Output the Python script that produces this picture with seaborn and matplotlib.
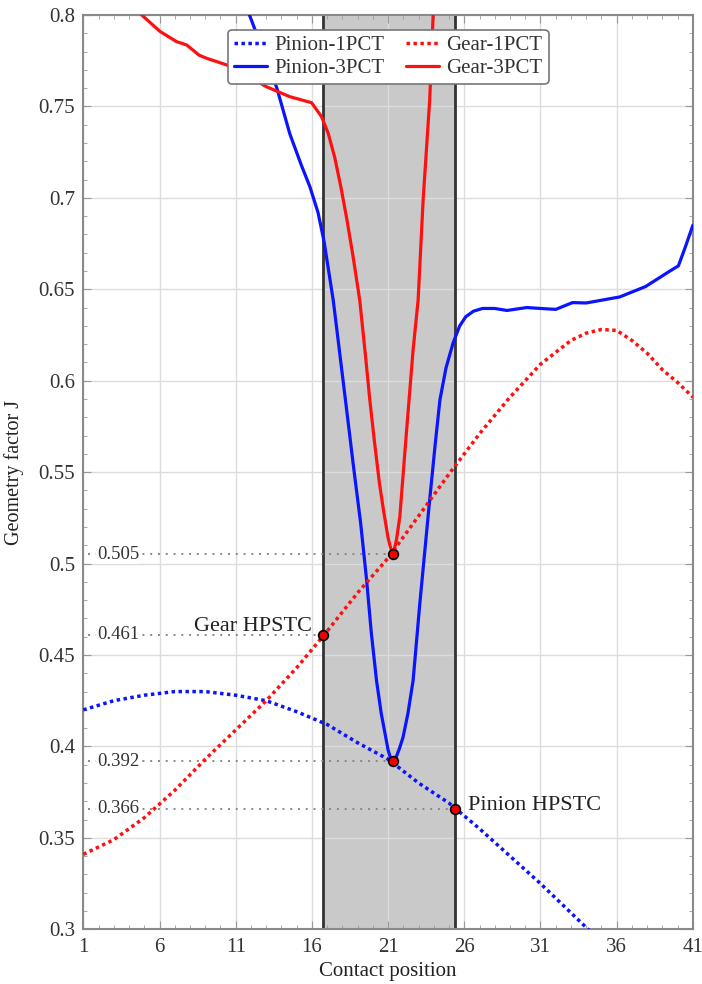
"""Geometry factor J along the contact path, pinion vs gear, 1PCT vs 3PCT."""
import matplotlib
matplotlib.use("Agg")
import matplotlib.pyplot as plt
import pandas as pd
import seaborn as sns
from matplotlib.ticker import MultipleLocator

# --- data ------------------------------------------------------------------
pinion_1pct_x = [1, 3, 5, 7, 9, 11, 13, 15, 17, 19, 21, 23, 25, 27, 29, 31, 33, 35]
pinion_1pct_y = [0.420, 0.425, 0.428, 0.430, 0.430, 0.428, 0.425, 0.419, 0.412,
                 0.402, 0.393, 0.380, 0.369, 0.355, 0.340, 0.325, 0.309, 0.293]

gear_1pct_x = [1, 3, 5, 7, 9, 11, 13, 15, 17, 19, 21, 23, 25, 27, 29, 31, 33, 34,
               35, 36, 37, 38, 39, 40, 41]
gear_1pct_y = [0.341, 0.349, 0.361, 0.376, 0.393, 0.409, 0.425, 0.443, 0.463,
               0.484, 0.503, 0.526, 0.549, 0.571, 0.591, 0.609, 0.622, 0.626,
               0.628, 0.6275, 0.622, 0.615, 0.606, 0.599, 0.591]

pinion_3pct_x = [10.0, 11.9, 13.0, 13.7, 14.55, 15.3, 15.87, 16.4, 16.8, 17.4,
                 18.2, 18.73, 19.2, 19.59, 19.9, 20.24, 20.55, 20.8, 21.0, 21.2,
                 21.33, 21.5, 21.75, 21.98, 22.3, 22.64, 23.08, 23.73, 24.1,
                 24.4, 24.8, 25.26, 25.7, 26.1, 26.6, 27.2, 28.0, 28.8, 30.1,
                 31.0, 32.0, 33.1, 34.0, 36.2, 37.9, 39.5, 40.05, 40.5, 41.0]
pinion_3pct_y = [0.842, 0.800, 0.776, 0.760, 0.735, 0.718, 0.706, 0.692, 0.676,
                 0.644, 0.5895, 0.553, 0.522, 0.491, 0.462, 0.436, 0.418, 0.407,
                 0.398, 0.3925, 0.392, 0.3935, 0.399, 0.405, 0.418, 0.436, 0.478,
                 0.535, 0.566, 0.5895, 0.607, 0.6205, 0.630, 0.635, 0.638,
                 0.6395, 0.6395, 0.6384, 0.640, 0.6395, 0.639, 0.6427, 0.6425,
                 0.6458, 0.6515, 0.660, 0.6628, 0.673, 0.685]

gear_3pct_x = [4.0, 4.83, 6.03, 7.12, 7.78, 8.6, 9.09, 10.4, 11.5, 13.0, 14.55,
               15.98, 16.63, 17.07, 17.5, 17.9, 18.3, 18.7, 19.14, 19.5, 19.8,
               20.1, 20.43, 20.7, 21.0, 21.15, 21.33, 21.55, 21.77, 22.2, 22.64,
               22.97, 23.3, 23.73, 23.95, 24.2]
gear_3pct_y = [0.806, 0.800, 0.791, 0.7854, 0.7836, 0.778, 0.7763, 0.7727, 0.768,
               0.7608, 0.7553, 0.752, 0.7444, 0.7353, 0.722, 0.706, 0.688, 0.668,
               0.644, 0.615, 0.5895, 0.567, 0.544, 0.529, 0.514, 0.509, 0.505,
               0.513, 0.5257, 0.5713, 0.6168, 0.644, 0.699, 0.7535, 0.799, 0.830]

# HPSTC band and the marked points
band_x = [16.75, 25.4]
mark_x = [16.75, 21.33, 21.33, 25.4]
mark_y = [0.461, 0.505, 0.392, 0.366]
mark_labels = ["0.461", "0.505", "0.392", "0.366"]

sns.set_style("ticks")
plt.rcParams["font.family"] = ["Liberation Serif", "DejaVu Serif"]

fig = plt.figure(figsize=(7.02, 9.84), dpi=100)
ax = fig.add_axes([0.1187, 0.0556, 0.987 - 0.1187, 0.9848 - 0.0556])

ax.axvspan(band_x[0], band_x[1], color="#c9c9c9", zorder=0)
for bx in band_x:
    ax.axvline(bx, color="#333333", lw=2.0, zorder=1)

ax.grid(True, which="major", color="#dcdcdc", lw=1.0, zorder=0.5)
ax.set_axisbelow(True)

blue, red = "#0a14ff", "#ff1010"
dot = (0, (1, 1))
series = [
    ("Pinion-1PCT", pinion_1pct_x, pinion_1pct_y, blue, dot, 2.5),
    ("Pinion-3PCT", pinion_3pct_x, pinion_3pct_y, blue, "-", 2.3),
    ("Gear-1PCT", gear_1pct_x, gear_1pct_y, red, dot, 2.5),
    ("Gear-3PCT", gear_3pct_x, gear_3pct_y, red, "-", 2.3),
]
for name, xs, ys, col, ls, lw in series:
    df = pd.DataFrame({"x": xs, "y": ys})
    sns.lineplot(data=df, x="x", y="y", ax=ax, color=col, linestyle=ls, lw=lw,
                 label=name, zorder=3)

# dotted guide lines and value labels
for mx, my, txt in zip(mark_x, mark_y, mark_labels):
    ax.plot([1.3, mx], [my, my], color="#888888", ls=(0, (1, 3)), lw=1.4, zorder=2)
    ax.text(1.9, my, txt, fontsize=13.5, color="#333333", ha="left", va="center",
            zorder=2.5, bbox=dict(facecolor="white", edgecolor="none", pad=0.5))

ax.plot(mark_x, mark_y, ls="none", marker="o", ms=7, mfc="#ee0000", mec="black",
        mew=1.2, zorder=5)
ax.annotate("Gear HPSTC", (mark_x[0], mark_y[0]), xytext=(-8, 6),
            textcoords="offset points", ha="right", va="center", fontsize=16,
            color="#222222")
ax.annotate("Pinion HPSTC", (mark_x[3], mark_y[3]), xytext=(9, 2),
            textcoords="offset points", ha="left", va="center", fontsize=16,
            color="#222222")

ax.set_xlim(1, 41)
ax.set_ylim(0.3, 0.8)
ax.xaxis.set_minor_locator(MultipleLocator(1))
ax.yaxis.set_minor_locator(MultipleLocator(0.01))
ax.set_yticks([0.3, 0.35, 0.4, 0.45, 0.5, 0.55, 0.6, 0.65, 0.7, 0.75, 0.8])
ax.set_yticklabels(["0.3", "0.35", "0.4", "0.45", "0.5", "0.55", "0.6", "0.65",
                    "0.7", "0.75", "0.8"])
ax.set_xticks(list(range(1, 42, 5)))
ax.tick_params(which="both", direction="in", top=True, right=True,
               colors="#999999", labelcolor="#333333", labelsize=15, pad=6)
ax.tick_params(which="major", length=6)
ax.tick_params(which="minor", length=3)
for sp in ax.spines.values():
    sp.set_color("#8a8a8a")
    sp.set_linewidth(1.5)

ax.set_xlabel("Contact position", fontsize=15, color="#222222", labelpad=4)
ax.set_ylabel("Geometry factor J", fontsize=14.5, color="#222222", labelpad=10)

leg = ax.legend(loc="upper center", bbox_to_anchor=(0.5, 0.984), ncol=2,
                fontsize=15, frameon=True, fancybox=True, framealpha=1,
                edgecolor="#777777", handlelength=1.6, columnspacing=1.0,
                borderpad=0.3, labelspacing=0.15, handletextpad=0.35,
                borderaxespad=0)
leg.get_frame().set_linewidth(1.2)
for t in leg.get_texts():
    t.set_color("#333333")

fig.savefig("out.png", dpi=100)
